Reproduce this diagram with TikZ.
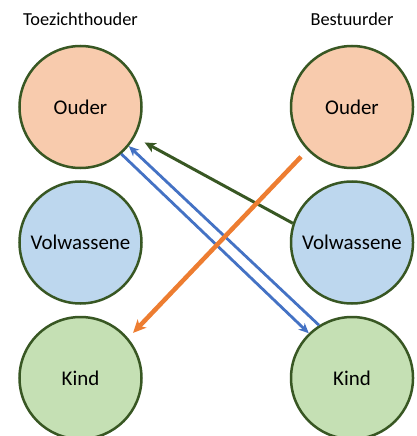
\documentclass[tikz,border=0pt]{standalone}
\usepackage{fontspec}
\setmainfont{Carlito}
\usetikzlibrary{arrows.meta,positioning}
\definecolor{rim}{HTML}{385723}
\definecolor{ouderfill}{HTML}{F8CBAD}
\definecolor{volwfill}{HTML}{BDD7EE}
\definecolor{kindfill}{HTML}{C5E0B4}
\definecolor{pijlblauw}{HTML}{4472C4}
\definecolor{pijloranje}{HTML}{ED7D31}

\begin{document}
\begin{tikzpicture}[
    x=1bp,y=-1bp,
    rol/.style={draw=rim,circle,line width=2.5bp,minimum size=122bp,
               inner sep=0pt,text centered,font=\fontsize{21}{24}\selectfont},
    kop/.style={inner sep=0pt,anchor=south,font=\fontsize{18.4}{22}\selectfont},
    blauw/.style={-{Stealth[length=10bp,width=9bp,inset=3bp]},line width=2.8bp,
                  draw=pijlblauw},
    groen/.style={-{Stealth[length=11bp,width=10bp,inset=3bp]},line width=3bp,
                  draw=rim},
    oranje/.style={-{Stealth[length=13bp,width=12bp,inset=3.5bp]},line width=4.5bp,
                   draw=pijloranje}
  ]
    \useasboundingbox (0,0) rectangle (416,436);

    \node[rol,fill=ouderfill] (tO) at (80.5,107) {Ouder};
    \node[rol,fill=volwfill,below=11bp of tO] (tV) {Volwassene};
    \node[rol,fill=kindfill,below=11bp of tV] (tK) {Kind};
    \node[rol,fill=ouderfill,right=147bp of tO] (bO) {Ouder};
    \node[rol,fill=volwfill,below=11bp of bO] (bV) {Volwassene};
    \node[rol,fill=kindfill,below=11bp of bV] (bK) {Kind};

    \node[kop,above=19bp of tO] (tKop) {Toezichthouder};
    \node[kop,above=19bp of bO] (bKop) {Bestuurder};

    %% ouder <-> kind
    \draw[blauw] (tO.-49) to (bK.134);
    \draw[blauw] (bK.122) to (tO.-39);

    %% volwassene -> ouder
    \draw[groen,shorten >=11bp] (bV.162) to (tO.-29);

    %% ouder -> kind
    \draw[oranje,shorten <=9bp,shorten >=7bp] (bO.-136) to (tK.40);
  \end{tikzpicture}
\end{document}
